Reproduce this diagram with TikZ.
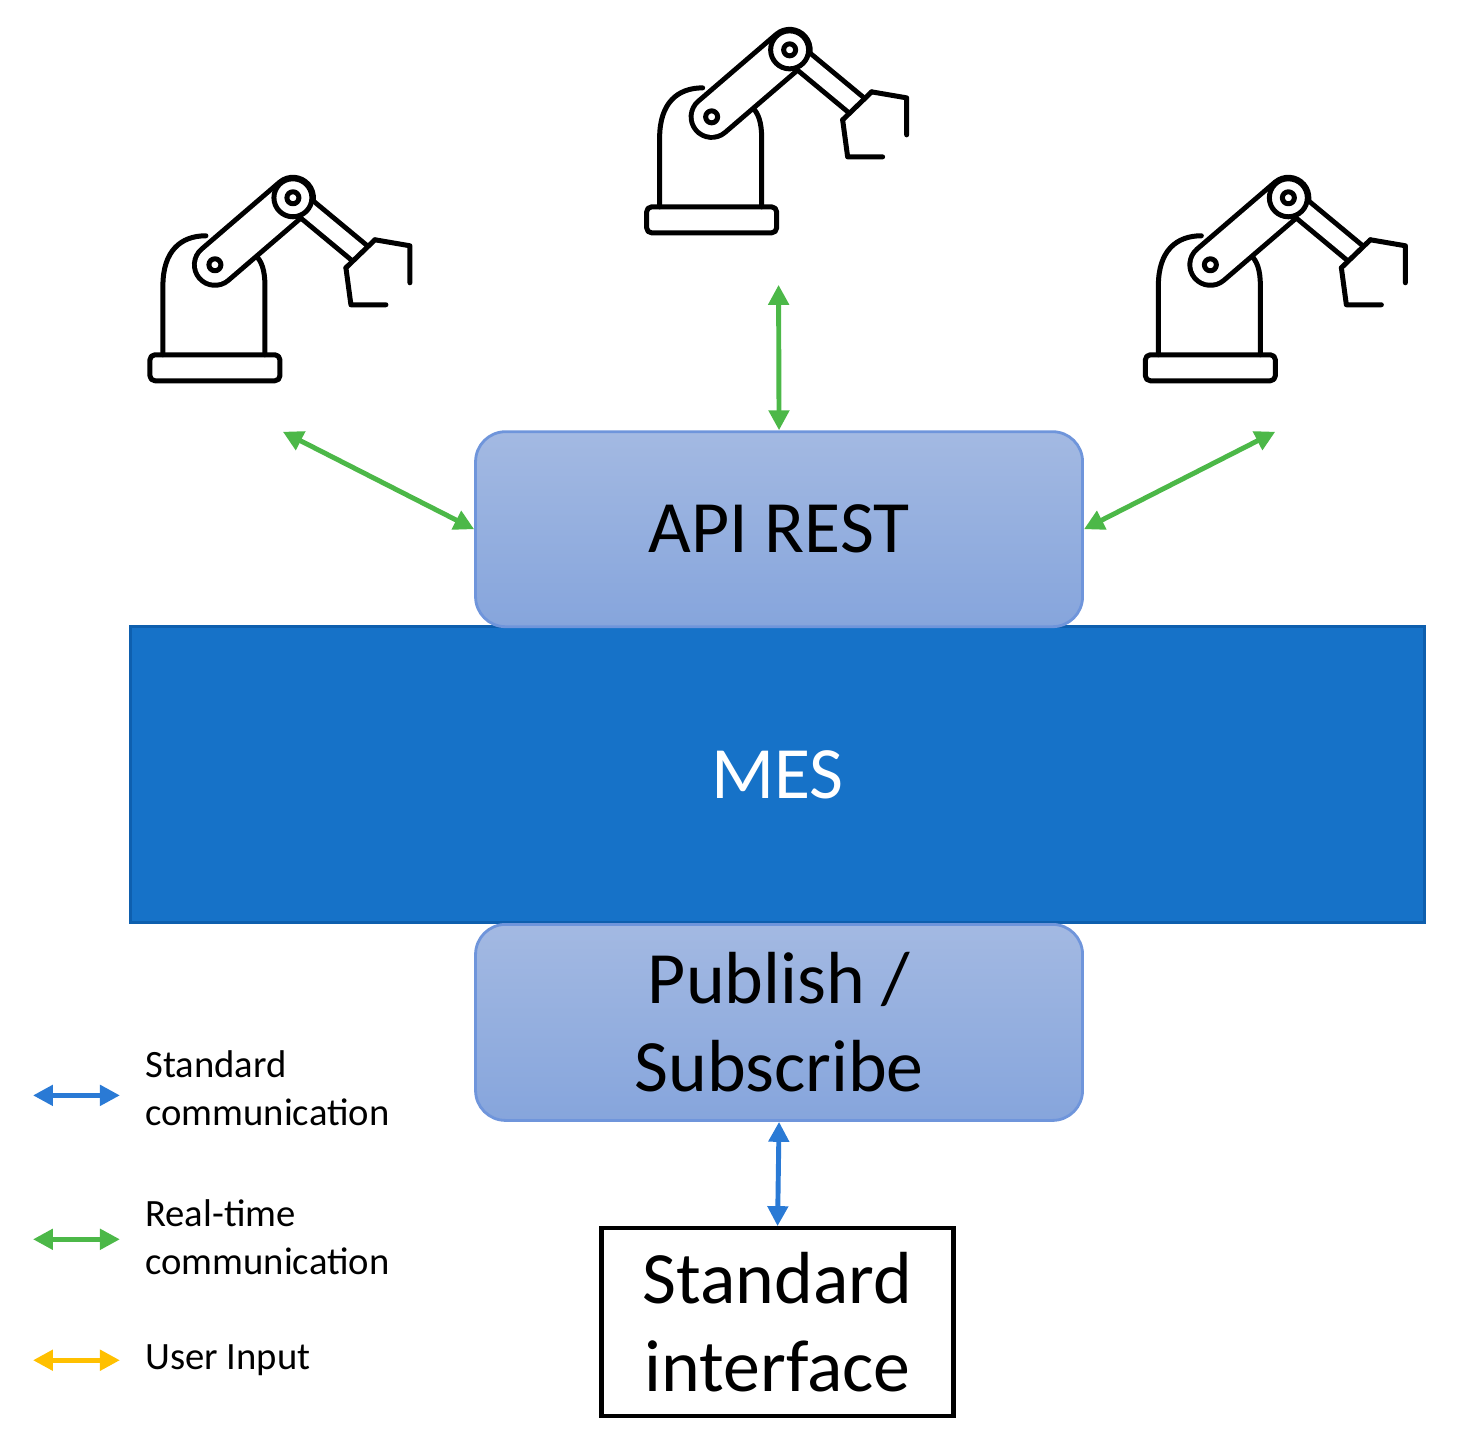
\documentclass[tikz,border=0pt]{standalone}
\usepackage{fontspec}
\setmainfont{Carlito}
\usetikzlibrary{arrows.meta}
\definecolor{rtgreen}{HTML}{4CB848}
\definecolor{stdblue}{HTML}{2A7AD5}
\definecolor{usryellow}{HTML}{FFC000}
\definecolor{mesblue}{HTML}{1672C8}
\definecolor{mesedge}{HTML}{0E5FAE}
\definecolor{boxtop}{HTML}{A3B9E2}
\definecolor{boxbot}{HTML}{86A5DC}
\definecolor{boxedge}{HTML}{6F95DB}
\tikzset{
  px/.style={x=0.01cm,y=-0.01cm},
  link/.style={line width=1.4pt,{Triangle[length=0.2cm,width=0.2cm]}-{Triangle[length=0.2cm,width=0.2cm]}},
  layer/.style={rounded corners=0.3cm,draw=boxedge,line width=0.8pt,top color=boxtop,bottom color=boxbot,
    minimum width=6.07cm,align=center,font=\fontsize{21}{25}\selectfont},
  legend/.style={anchor=west,align=left,font=\fontsize{11}{13.6}\selectfont},
  robot/.pic={
    \begin{scope}[x=1cm,y=1cm,line width=0.05cm,line join=round,line cap=round]
      % base and body
      \draw[rounded corners=0.05cm] (0.04,0) rectangle (1.34,0.26);
      \draw (0.17,0.26) -- (0.17,0.95) .. controls (0.17,1.3) and (0.35,1.45) .. (0.6,1.45);
      \draw (1.19,0.26) -- (1.19,0.95) .. controls (1.19,1.1) and (1.16,1.2) .. (1.09,1.26);
      % upper arm
      \draw[line width=0.46cm] (0.69,1.16) -- (1.47,1.83);
      \draw[line width=0.36cm,white] (0.69,1.16) -- (1.47,1.83);
      \draw (0.69,1.16) circle (0.06);
      % forearm
      \draw[line width=0.26cm,line cap=butt] (1.47,1.83) -- (2.145,1.27);
      \draw[line width=0.16cm,white,line cap=butt] (1.47,1.83) -- (2.145,1.27);
      \draw[fill=white] (1.47,1.83) circle (0.19);
      \draw (1.47,1.83) circle (0.06);
      % gripper
      \draw (2.00,1.13) -- (2.29,1.41);
      \draw (2.29,1.41) -- (2.64,1.35) -- (2.64,0.98);
      \draw (2.00,1.13) -- (2.05,0.76) -- (2.40,0.76);
    \end{scope}}
}
\begin{document}
\begin{tikzpicture}
\useasboundingbox (0,0) rectangle (14.59,-14.41);
\begin{scope}[px]
  % robots
  \pic at (643,233) {robot};
  \pic at (146,381) {robot};
  \pic at (1142,381) {robot};
  % layers
  \node[draw=mesedge,fill=mesblue,line width=0.8pt,minimum width=12.94cm,minimum height=2.96cm,
        text=white,font=\fontsize{21}{25}\selectfont] (mes) at (778,775) {MES};
  \node[layer,minimum height=1.95cm] (api) at (779.5,529.5) {API REST};
  \node[layer,minimum height=1.96cm] (pubsub) at (779.5,1023) {Publish /\\Subscribe};
  \node[draw,line width=1.2pt,fill=white,minimum width=3.52cm,minimum height=1.88cm,align=center,
        font=\fontsize{21}{25}\selectfont] (ui) at (778,1323) {Standard\\interface};
  % connector ends near robots
  \coordinate (rtop) at (779,285);
  \coordinate (rleft) at (283,432);
  \coordinate (rright) at (1276,432);
  \draw[link,rtgreen] (rtop) -- (api.north);
  \draw[link,rtgreen] (rleft) -- (api.west);
  \draw[link,rtgreen] (rright) -- (api.east);
  \draw[link,stdblue] (pubsub.south) -- (ui.north);
  % legend
  \coordinate (l1a) at (33,1096); \coordinate (l1b) at (120,1096);
  \coordinate (l2a) at (33,1240); \coordinate (l2b) at (120,1240);
  \coordinate (l3a) at (33,1361); \coordinate (l3b) at (120,1361);
  \draw[link,stdblue] (l1a) -- (l1b);
  \draw[link,rtgreen] (l2a) -- (l2b);
  \draw[link,usryellow] (l3a) -- (l3b);
  \node[legend] (t1) at (133,1089) {Standard\\communication};
  \node[legend] (t2) at (133,1238) {Real-time\\communication};
  \node[legend] (t3) at (133,1361) {User Input};
\end{scope}
\end{tikzpicture}
\end{document}
